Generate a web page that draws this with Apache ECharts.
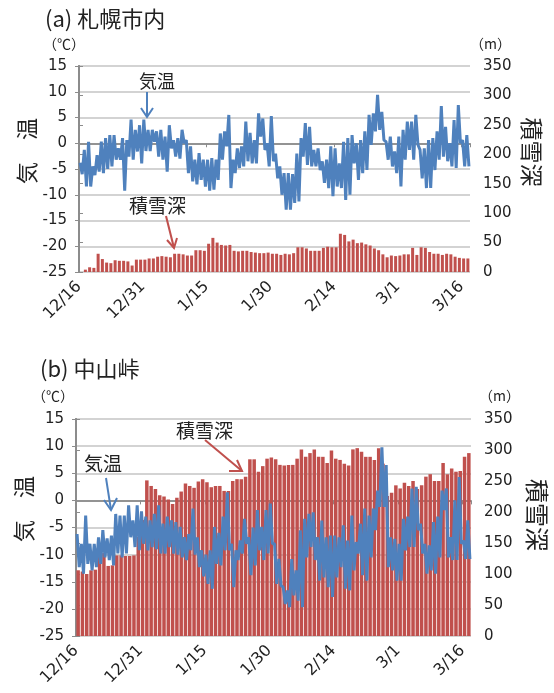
<!DOCTYPE html>
<html><head><meta charset="utf-8">
<script src="https://cdn.jsdelivr.net/npm/echarts@6/dist/echarts.min.js"></script>
<style>html,body{margin:0;padding:0;background:#fff}#c{width:554px;height:693px}</style>
</head><body><div id="c"></div><script>
// tick labels (every 15 days from 12/16)
const dateTicks = ['12/16','12/31','1/15','1/30','2/14','3/1','3/16'];
const dayCount = 92; // 12/16 .. 3/17

// (a) 札幌市内 : snow depth per day (m-axis units), daily high / low temperature (℃)
const snowA = [null,4,8,7,31,22,16,15,20,19,19,18,11,21,21,21,23,23,26,27,26,25,31,31,30,28,28,37,37,36,48,58,50,46,45,46,36,35,36,36,34,33,32,32,33,
  31,31,29,31,30,32,42,42,40,36,36,36,41,43,42,42,65,63,52,55,49,50,47,45,40,37,30,25,28,27,28,30,30,41,29,42,41,34,31,31,29,31,30,26,24,23,23];
const tempHiA = [-3.8,-1.3,0.3,-4.5,-2.3,0.3,1,1.6,1.6,-1,1,0.6,4.6,2.6,3.5,4.6,2.6,2.6,2.3,2.6,1.3,3.5,0.6,1,2.6,0.6,-0.6,-3.2,-1.9,-3.2,
  -3.2,-2.9,-3.2,1.9,2.3,5.5,-3.2,-1,-0.6,4.2,2,0.6,5.8,4.8,0,5.3,
  -2,-4.5,-5.8,-5.8,-6,-2,1,3.9,3.2,-1.3,-1,-3.5,-3.2,-0.6,-1,-3.9,0.3,1,1.6,0,0.6,2.3,5.5,5.8,9.4,6.1,0.3,1.3,-1.6,1.3,
  2.6,4.2,4.2,5.5,-1.3,-1,0.6,1,2.3,7.2,3.2,0,4.5,7.4,0.6,1.6];
const tempLoA = [-6,-8.4,-8.4,-6.2,-5.5,-5.8,-5,-4.5,-3.2,-3.2,-9.2,-2.6,-3.2,-1.6,-3.9,-1.5,-1.5,0.3,-2.6,-3.2,-5.5,-1,-2.6,-3,0,-5.8,-7.4,-8,-7.1,-8.4,
  -9.2,-9,-7.1,-3.2,-0.6,-8.7,-5.8,-4.8,-4.5,-3.5,-3.9,-3.9,1.3,-1.3,-4.5,-3.5,
  -6.8,-10,-12.9,-12.9,-11.6,-11.3,-2.6,-4.2,-4.5,-4.5,-5.2,-7.7,-8.7,-10.3,-8.4,-8.7,-11,-10,-3.9,-7.1,-5.8,-5.2,-0.3,2.3,2.6,0.6,-3.2,-4.5,-5.8,-8.4,
  -3.2,-1.3,-3.2,-0.3,-6.8,-8.7,-8.7,-5.2,-3.2,-2.6,-3.5,-4.5,-4.8,0,-4.5,-4.5];

// (b) 中山峠
const snowB = [106,104,100,106,107,134,134,113,114,130,130,129,129,130,160,187,
  251,242,237,227,225,220,213,223,233,246,242,239,249,253,248,240,242,242,234,234,250,253,253,257,285,285,265,274,286,288,
  285,276,275,276,276,286,301,289,295,301,289,289,279,299,286,284,278,275,301,303,297,289,289,284,303,278,226,231,243,238,247,242,250,237,243,257,261,250,250,279,261,270,265,266,289,295];
const tempHiB = [-6.2,-8,-2.8,-8,-8,-6.8,-5.5,-7,-6.5,-2.5,-2.8,-2.8,-0.9,-3.7,-0.9,-2,-3,-3.7,-2.5,-0.9,-4.3,-3,-3.7,-4,-4.9,-6.8,-6.2,-1.5,-6.8,-9.2,
  -10,-9.2,-4.9,-6,-3,1.5,-8,-9.2,-7.4,-3.4,-6.8,-5,-1.8,-4.9,-1.8,-0.6,
  -8,-10.8,-16,-16.6,-10.8,-12.9,-5.5,-3.4,-2.5,-2.2,-6.8,-3.7,-6.8,-6.5,-6.5,-6.8,-4.6,-7.4,-2.8,-7.7,-4.3,-1.5,-2.8,-1.5,1.8,9.8,6.5,-6.8,-7.1,-8,
  -3.4,-3,2.2,2.5,-4.3,-8,-8.3,-4,-3,1.8,2.2,-6.8,0,4.3,-7.4,-3.7];
const tempLoB = [-12.3,-13.5,-11.7,-12.9,-12.3,-11.7,-10.5,-11,-12,-9.8,-10.5,-9.8,-6.8,-8.6,-9.2,-8,-9.2,-8.6,-9,-9.8,-9.8,-8.6,-9.8,-10,-10.5,-11,-9.2,-10,-12.3,-14,
  -15.4,-16.3,-11.7,-12,-9.2,-9.2,-16,-11,-9.8,-8,-13.8,-12,-9.2,-11,-9.8,-8,
  -15.4,-15.7,-19.1,-19.7,-17.5,-18.5,-19.7,-10.5,-8.6,-11,-14.8,-14.2,-16,-17.8,-14.2,-12.3,-16.3,-16.6,-12.9,-9.8,-13.8,-14.8,-10.5,-5.5,-1.2,-1.2,-12.3,-12.9,-14.8,-14.8,
  -9.2,-8.6,-8.6,-5.5,-9.8,-13.5,-12.9,-13.5,-10.5,-1.8,-10.5,-11,-11,-8,-10.8,-10.8];

const tempTicks = {min:-25, max:15, step:5};
const snowTicks = {min:0, max:350, step:50};

const BLUE = '#4F81BD', RED = '#C0504D', GRID = '#c4c4c4', AXIS = '#8c8c8c', TXT = '#222';
const NUMFONT = 'DejaVu Sans', JPFONT = 'Noto Sans CJK JP';

function barData(arr){ return arr.map((v,i)=>[i+0.5, v]); }
function lineData(hi, lo){ const out=[]; for(let i=0;i<hi.length;i++){ out.push([i+0.25, hi[i]]); out.push([i+0.75, lo[i]]); } return out; }

function xAxes(g, yZeroIdx){
  return [{
    type:'value', gridIndex:g, min:0, max:dayCount, interval:15, position:'bottom',
    axisLine:{show:false, onZero:false}, axisTick:{show:false}, splitLine:{show:false},
    axisLabel:{rotate:45, margin:12, color:TXT, fontSize:16, fontFamily:NUMFONT, showMaxLabel:false,
      formatter:v=> (v%15===0 && dateTicks[v/15]!==undefined) ? dateTicks[v/15] : ''}
  },{
    type:'value', gridIndex:g, min:0, max:dayCount, interval:15, position:'top',
    axisLine:{show:true, onZero:true, onZeroAxisIndex:yZeroIdx, lineStyle:{color:AXIS, width:1.5}},
    axisTick:{show:true, inside:true, length:4, lineStyle:{color:AXIS}},
    axisLabel:{show:false}, splitLine:{show:false}
  }];
}
function yAxes(g){
  const splitColors = [];
  for(let v=tempTicks.min; v<=tempTicks.max; v+=tempTicks.step) splitColors.push(v===0 ? AXIS : GRID);
  return [{
    type:'value', gridIndex:g, position:'left', min:tempTicks.min, max:tempTicks.max, interval:tempTicks.step,
    axisLine:{show:true, lineStyle:{color:AXIS, width:2}}, axisTick:{show:true, length:4, lineStyle:{color:AXIS}},
    splitLine:{show:true, lineStyle:{color:splitColors, width:1.5}},
    axisLabel:{margin:12, color:TXT, fontSize:15, fontFamily:NUMFONT}
  },{
    type:'value', gridIndex:g, position:'right', min:snowTicks.min, max:snowTicks.max, interval:snowTicks.step,
    axisLine:{show:true, lineStyle:{color:AXIS, width:2}}, axisTick:{show:true, length:4, lineStyle:{color:AXIS}},
    splitLine:{show:false},
    axisLabel:{margin:13, color:TXT, fontSize:15, fontFamily:NUMFONT}
  }];
}
function txt(x,y,text,size,opts){
  opts = opts||{};
  return {type:'text', x:x, y:y, rotation:opts.rot||0, z:100,
    style:{text:text, fill:opts.color||TXT, font:size+'px "'+(opts.family||JPFONT)+'"',
      fontSize:size, fontFamily:opts.family||JPFONT,
      textAlign:opts.align||'left', align:opts.align||'left',
      textVerticalAlign:opts.valign||'top', verticalAlign:opts.valign||'top'}};
}
function arrow(pts, head, color){
  return [{type:'polyline', z:100, shape:{points:pts}, style:{stroke:color, lineWidth:2, fill:null}},
          {type:'polyline', z:100, shape:{points:head}, style:{stroke:color, lineWidth:2, fill:null}}];
}

const option = {
  animation:false,
  backgroundColor:'#fff',
  grid:[
    {left:79, top:66, width:391, height:206, outerBoundsMode:'none', containLabel:false},
    {left:76, top:419, width:395, height:217, outerBoundsMode:'none', containLabel:false}
  ],
  xAxis:[].concat(xAxes(0,0), xAxes(1,2)),
  yAxis:[].concat(yAxes(0), yAxes(1)),
  series:[
    {name:'積雪深', type:'bar', xAxisIndex:0, yAxisIndex:1, data:barData(snowA), barWidth:3, itemStyle:{color:RED}, z:2},
    {name:'気温', type:'line', xAxisIndex:0, yAxisIndex:0, data:lineData(tempHiA,tempLoA), symbol:'none', lineStyle:{color:BLUE, width:3}, z:3},
    {name:'積雪深', type:'bar', xAxisIndex:2, yAxisIndex:3, data:barData(snowB), barWidth:3.5, itemStyle:{color:RED}, z:2},
    {name:'気温', type:'line', xAxisIndex:2, yAxisIndex:2, data:lineData(tempHiB,tempLoB), symbol:'none', lineStyle:{color:BLUE, width:3}, z:3}
  ],
  graphic:[].concat(
    [txt(45,8,'(a) 札幌市内',22), txt(43,37,'（℃）',14), txt(470,37,'（m）',14),
     txt(27,151,'気　温',22,{rot:Math.PI/2, align:'center', valign:'middle'}),
     txt(532,152,'積雪深',23,{rot:-Math.PI/2, align:'center', valign:'middle'}),
     txt(139,72,'気温',18), txt(129,196,'積雪深',19)],
    arrow([[147,92],[147,117]], [[141,108],[147,117],[153,108]], BLUE),
    arrow([[166,216],[174,248]], [[167,240],[174,248],[177,238]], RED),
    [txt(40,358,'(b) 中山峠',22), txt(32,389,'（℃）',14), txt(479,389,'（m）',14),
     txt(24,509,'気　温',22,{rot:Math.PI/2, align:'center', valign:'middle'}),
     txt(537,515,'積雪深',24,{rot:-Math.PI/2, align:'center', valign:'middle'}),
     txt(84,454,'気温',19), txt(176,421,'積雪深',19)],
    arrow([[106,478],[111,510]], [[104,500],[111,510],[117,498]], BLUE),
    arrow([[205,440],[242,471]], [[229,471],[242,471],[237,460]], RED)
  )
};
const chart = echarts.init(document.getElementById('c'), null, {renderer:'canvas'});
chart.setOption(option);
</script></body></html>
